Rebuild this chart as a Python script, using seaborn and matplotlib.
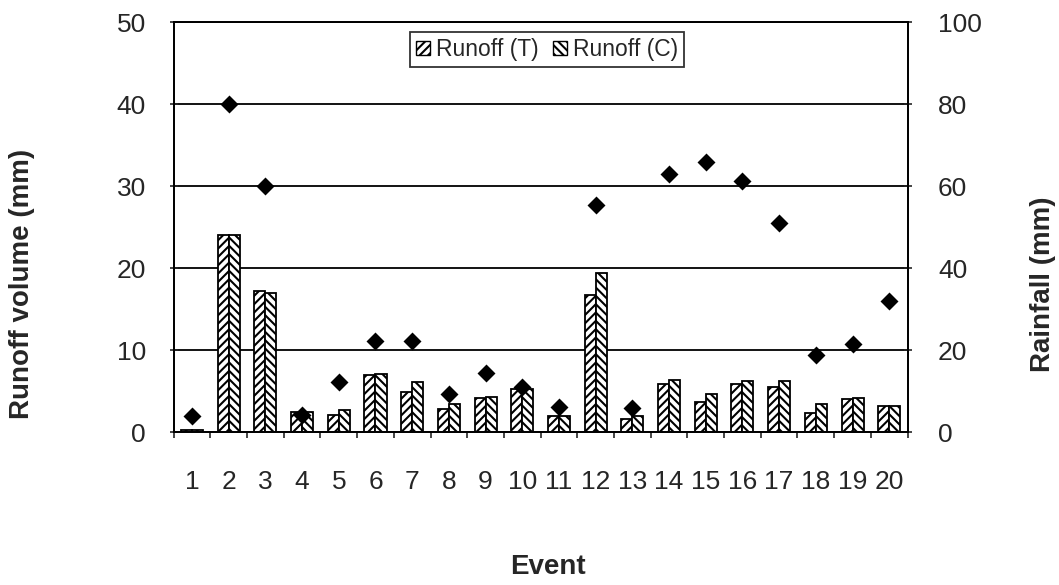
import pandas as pd
import matplotlib.pyplot as plt
import seaborn as sns

events = [str(i) for i in range(1, 21)]
runoff_t = [0.3, 24.0, 17.2, 2.4, 2.1, 7.0, 4.9, 2.8, 4.1, 5.3,
            2.0, 16.7, 1.6, 5.9, 3.7, 5.9, 5.5, 2.3, 4.0, 3.2]
runoff_c = [0.3, 24.0, 17.0, 2.4, 2.7, 7.1, 6.1, 3.4, 4.3, 5.3,
            2.0, 19.4, 1.9, 6.4, 4.6, 6.2, 6.2, 3.4, 4.1, 3.2]
rainfall = [3.8, 80.0, 60.0, 4.1, 12.3, 22.3, 22.3, 9.4, 14.5, 11.0,
            6.0, 55.4, 5.8, 62.9, 65.8, 61.2, 51.0, 18.9, 21.4, 32.0]

runoff = pd.DataFrame({
    'Event': events * 2,
    'Runoff': runoff_t + runoff_c,
    'Series': ['Runoff (T)'] * 20 + ['Runoff (C)'] * 20,
})
rain = pd.DataFrame({'Event': events, 'Rainfall': rainfall})

sns.set_style("white")
plt.rcParams['font.family'] = ['Liberation Sans', 'DejaVu Sans']
plt.rcParams['hatch.linewidth'] = 1.5

fig = plt.figure(figsize=(10.59, 5.85), dpi=100)
ax = fig.add_axes([0.164, 0.2615, 0.693, 0.7005])

sns.barplot(data=runoff, x='Event', y='Runoff', hue='Series', ax=ax,
            width=0.6, gap=0, palette=['white', 'white'], edgecolor='black',
            linewidth=1.3, legend=False, zorder=3)

hatches = ['////', '\\\\\\\\']
for cont, h in zip(ax.containers, hatches):
    for bar in cont:
        bar.set_hatch(h)

ax.set_ylim(0, 50)
ax.set_yticks([0, 10, 20, 30, 40, 50])
ax.set_xlim(-0.5, 19.5)
ax.yaxis.grid(True, color='black', linewidth=1.3)
ax.set_axisbelow(True)
for s in ax.spines.values():
    s.set_color('black')
    s.set_linewidth(1.3)

# ticks at category boundaries, labels at the centres
ax.set_xticks([i - 0.5 for i in range(21)])
ax.set_xticklabels([])
ax.set_xticks(range(20), minor=True)
ax.set_xticklabels(events, minor=True, fontsize=19)
ax.tick_params(axis='x', which='major', direction='out', length=4, width=1.2, bottom=True)
ax.tick_params(axis='x', which='minor', length=0, pad=27)
ax.tick_params(axis='y', direction='inout', length=6, width=1.2, left=True,
               labelsize=19, pad=17)

ax.set_xlabel('Event', fontsize=20, fontweight='bold')
ax.xaxis.set_label_coords(0.51, -0.33)
ax.xaxis.label.set_va('center')
ax.set_ylabel('Runoff volume (mm)', fontsize=20, fontweight='bold')
ax.yaxis.set_label_coords(-0.206, 0.361)
ax.yaxis.label.set_va('center')

ax2 = ax.twinx()
sns.pointplot(data=rain, x='Event', y='Rainfall', ax=ax2, linestyle='none',
              marker='D', color='black', markersize=7.5, zorder=5)
ax2.set_xlim(-0.5, 19.5)
ax2.set_ylim(0, 100)
ax2.set_yticks([0, 20, 40, 60, 80, 100])
ax2.tick_params(axis='y', direction='inout', length=6, width=1.2, right=True,
                labelsize=19, pad=19)
ax2.set_ylabel('Rainfall (mm)', fontsize=20, fontweight='bold')
ax2.yaxis.set_label_coords(1.184, 0.361)
ax2.yaxis.label.set_va('center')
ax2.set_xlabel('')
for s in ax2.spines.values():
    s.set_color('black')
    s.set_linewidth(1.3)

handles = [plt.Rectangle((0, 0), 1, 1, facecolor='white', edgecolor='black', hatch=h)
           for h in hatches]
leg = ax.legend(handles, ['Runoff (T)', 'Runoff (C)'], loc='upper center',
                bbox_to_anchor=(0.509, 0.975), ncol=2, fontsize=16.5, frameon=True,
                fancybox=False, edgecolor='black', handlelength=0.6, handleheight=0.6,
                handletextpad=0.3, columnspacing=0.6, borderpad=0.25, borderaxespad=0)
leg.get_frame().set_linewidth(1.3)

fig.savefig('out.png', dpi=100)
